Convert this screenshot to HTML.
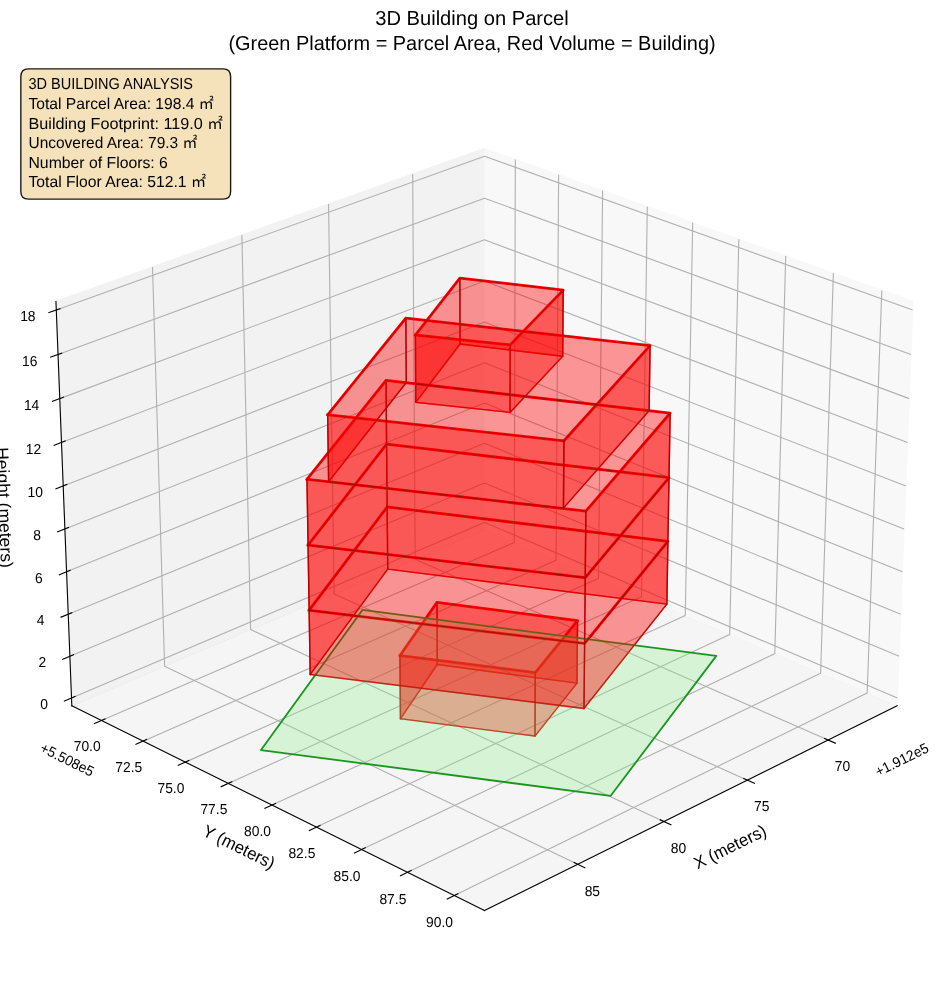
<!DOCTYPE html>
<html lang="en">
<head>
<meta charset="utf-8">
<title>3D Building on Parcel</title>
<style>
html,body{margin:0;padding:0;background:#fff}
body{width:944px;height:992px;overflow:hidden}
svg{display:block}
svg *{stroke-linejoin:round;stroke-linecap:butt}
.t text{font-family:"Liberation Sans","Noto Sans CJK JP",sans-serif;fill:#000;stroke:none;text-rendering:geometricPrecision}
.rl{fill:none;stroke:#f00;stroke-linecap:square;stroke-width:1.39}
.ax{fill:none;stroke:#000;stroke-width:1.11;stroke-linecap:square}
.w{fill:#f00;fill-opacity:.4;stroke:#8b0000;stroke-opacity:.4;stroke-width:1.39}
.gr{fill:none;stroke:#b0b0b0;stroke-width:1.11}
.rt{fill:none;stroke:#f00;stroke-width:2.78;stroke-linecap:square}
</style>
</head>
<body>
<svg width="944" height="992" viewBox="0 0 944 992" role="img" aria-label="3D Building on Parcel">
<g transform="translate(0 0.24)">
<path d="M 0 991.76 L 944 991.76 L 944 0 L 0 0 z" style="fill:#ffffff"/>
<path d="M 10 981.76 L 934 981.76 L 934 57.76 L 10 57.76 z" style="fill:#ffffff"/>
<path d="M 484.49 529.55 L 897.14 705.61 L 913.01 301.3 L 484.49 148.13" style="fill:#f2f2f2;opacity:0.5;stroke:#f2f2f2;stroke-linejoin:miter;stroke-width:1.39"/>
<path d="M 484.49 529.55 L 71.83 705.61 L 55.96 301.3 L 484.49 148.13" style="fill:#e6e6e6;opacity:0.5;stroke:#e6e6e6;stroke-linejoin:miter;stroke-width:1.39"/>
<path d="M 484.49 529.55 L 71.83 705.61 L 484.49 910.18 L 897.14 705.61" style="fill:#ececec;opacity:0.5;stroke:#ececec;stroke-linejoin:miter;stroke-width:1.39"/>
<path d="M 828.16 739.81 L 415.18 559.12 L 412.68 173.79" class="gr"/>
<path d="M 747.28 779.9 L 334.09 593.72 L 328.57 203.86" class="gr"/>
<path d="M 663.83 821.27 L 250.6 629.34 L 241.89 234.84" class="gr"/>
<path d="M 577.67 863.98 L 164.61 666.02 L 152.51 266.79" class="gr"/>
<path d="M 515.32 159.15 L 514.25 542.24 L 101.44 720.29" class="gr"/>
<path d="M 558.62 174.63 L 556.03 560.07 L 143.05 740.91" class="gr"/>
<path d="M 602.61 190.35 L 598.46 578.17 L 185.34 761.88" class="gr"/>
<path d="M 647.3 206.32 L 641.53 596.55 L 228.32 783.19" class="gr"/>
<path d="M 692.7 222.55 L 685.26 615.21 L 272.03 804.85" class="gr"/>
<path d="M 738.83 239.04 L 729.68 634.16 L 316.46 826.88" class="gr"/>
<path d="M 785.71 255.8 L 774.79 653.41 L 361.65 849.28" class="gr"/>
<path d="M 833.37 272.83 L 820.61 672.96 L 407.61 872.06" class="gr"/>
<path d="M 881.81 290.15 L 867.17 692.82 L 454.35 895.24" class="gr"/>
<path d="M 71.52 697.82 L 484.49 522.18 L 897.45 697.82" class="gr"/>
<path d="M 69.89 656.06 L 484.49 482.69 L 899.09 656.06" class="gr"/>
<path d="M 68.23 613.97 L 484.49 442.92 L 900.74 613.97" class="gr"/>
<path d="M 66.57 571.55 L 484.49 402.85 L 902.41 571.55" class="gr"/>
<path d="M 64.89 528.78 L 484.49 362.48 L 904.08 528.78" class="gr"/>
<path d="M 63.2 485.67 L 484.49 321.8 L 905.78 485.67" class="gr"/>
<path d="M 61.49 442.21 L 484.49 280.83 L 907.48 442.21" class="gr"/>
<path d="M 59.77 398.4 L 484.49 239.54 L 909.2 398.4" class="gr"/>
<path d="M 58.04 354.23 L 484.49 197.94 L 910.94 354.23" class="gr"/>
<path d="M 56.29 309.69 L 484.49 156.02 L 912.68 309.69" class="gr"/>
<path d="M 897.14 705.61 L 484.49 910.18" class="ax"/>
<path d="M 824.61 738.25 L 835.28 742.92" class="ax"/>
<path d="M 743.72 778.3 L 754.41 783.11" class="ax"/>
<path d="M 660.26 819.62 L 670.96 824.59" class="ax"/>
<path d="M 574.11 862.27 L 584.82 867.4" class="ax"/>
<path d="M 71.83 705.61 L 484.49 910.18" class="ax"/>
<path d="M 104.99 718.76 L 94.33 723.35" class="ax"/>
<path d="M 146.6 739.36 L 135.93 744.03" class="ax"/>
<path d="M 188.89 760.3 L 178.21 765.05" class="ax"/>
<path d="M 231.88 781.58 L 221.19 786.41" class="ax"/>
<path d="M 275.59 803.22 L 264.89 808.13" class="ax"/>
<path d="M 320.02 825.22 L 309.32 830.21" class="ax"/>
<path d="M 365.21 847.59 L 354.51 852.67" class="ax"/>
<path d="M 411.17 870.35 L 400.46 875.51" class="ax"/>
<path d="M 457.92 893.49 L 447.21 898.74" class="ax"/>
<path d="M 71.83 705.61 L 55.96 301.3" class="ax"/>
<path d="M 75.07 696.31 L 64.41 700.84" class="ax"/>
<path d="M 73.45 654.57 L 62.74 659.05" class="ax"/>
<path d="M 71.81 612.5 L 61.06 616.92" class="ax"/>
<path d="M 70.16 570.1 L 59.37 574.46" class="ax"/>
<path d="M 68.5 527.35 L 57.66 531.65" class="ax"/>
<path d="M 66.82 484.26 L 55.93 488.5" class="ax"/>
<path d="M 65.13 440.82 L 54.19 445" class="ax"/>
<path d="M 63.43 397.03 L 52.44 401.14" class="ax"/>
<path d="M 61.71 352.88 L 50.68 356.92" class="ax"/>
<path d="M 59.98 308.37 L 48.9 312.35" class="ax"/>
<path d="M 400.47 718.45 L 399.96 655.3" class="rl"/>
<path d="M 437.27 664.26 L 436.99 602.14" class="rl"/>
<path d="M 577 682.92 L 577.55 620.45" class="rl"/>
<path d="M 534.96 735.82 L 535.27 672.34" class="rl"/>
<path d="M 400.47 718.45 L 437.27 664.26 L 577 682.92 L 534.96 735.82 L 400.47 718.45" class="rl"/>
<path d="M 399.96 655.3 L 436.99 602.14 L 577.55 620.45 L 535.27 672.34 L 399.96 655.3" class="rt"/>
<path d="M 310.21 674.27 L 309.15 609.97" class="rl"/>
<path d="M 387.72 568.92 L 387.16 506.74" class="rl"/>
<path d="M 666.85 603.9 L 667.93 541.02" class="rl"/>
<path d="M 584 708.22 L 584.61 643.25" class="rl"/>
<path d="M 310.21 674.27 L 387.72 568.92 L 666.85 603.9 L 584 708.22 L 310.21 674.27" class="rl"/>
<path d="M 309.15 609.97 L 387.16 506.74 L 667.93 541.02 L 584.61 643.25 L 309.15 609.97" class="rt"/>
<path d="M 309.15 609.97 L 308.07 544.89" class="rl"/>
<path d="M 387.16 506.74 L 386.58 443.83" class="rl"/>
<path d="M 667.93 541.02 L 669.02 477.38" class="rl"/>
<path d="M 584.61 643.25 L 585.24 577.48" class="rl"/>
<path d="M 309.15 609.97 L 387.16 506.74 L 667.93 541.02 L 584.61 643.25 L 309.15 609.97" class="rl"/>
<path d="M 308.07 544.89 L 386.58 443.83 L 669.02 477.38 L 585.24 577.48 L 308.07 544.89" class="rt"/>
<path d="M 308.07 544.89 L 306.98 479.01" class="rl"/>
<path d="M 386.58 443.83 L 386.01 380.18" class="rl"/>
<path d="M 669.02 477.38 L 670.13 412.98" class="rl"/>
<path d="M 585.24 577.48 L 585.87 510.89" class="rl"/>
<path d="M 308.07 544.89 L 386.58 443.83 L 669.02 477.38 L 585.24 577.48 L 308.07 544.89" class="rl"/>
<path d="M 306.98 479.01 L 386.01 380.18 L 670.13 412.98 L 585.87 510.89 L 306.98 479.01" class="rt"/>
<path d="M 328.63 481.41 L 327.66 414.65" class="rl"/>
<path d="M 406.29 382.31 L 405.82 317.85" class="rl"/>
<path d="M 649.09 410.44 L 650.08 345.33" class="rl"/>
<path d="M 563.44 507.89 L 563.93 440.52" class="rl"/>
<path d="M 328.63 481.41 L 406.29 382.31 L 649.09 410.44 L 563.44 507.89 L 328.63 481.41" class="rl"/>
<path d="M 327.66 414.65 L 405.82 317.85 L 650.08 345.33 L 563.93 440.52 L 327.66 414.65" class="rt"/>
<path d="M 415.81 402.1 L 415.38 334.81" class="rl"/>
<path d="M 460.02 343.76 L 459.87 277.89" class="rl"/>
<path d="M 562.72 356.04 L 563.2 289.87" class="rl"/>
<path d="M 510 412.16 L 510.16 344.63" class="rl"/>
<path d="M 415.81 402.1 L 460.02 343.76 L 562.72 356.04 L 510 412.16 L 415.81 402.1" class="rl"/>
<path d="M 415.38 334.81 L 459.87 277.89 L 563.2 289.87 L 510.16 344.63 L 415.38 334.81" class="rt"/>
<path d="M 437.27 664.26 L 577 682.92 L 577.55 620.45 L 436.99 602.14 z" class="w"/>
<path d="M 400.47 718.45 L 437.27 664.26 L 436.99 602.14 L 399.96 655.3 z" class="w"/>
<path d="M 577 682.92 L 534.96 735.82 L 535.27 672.34 L 577.55 620.45 z" class="w"/>
<path d="M 534.96 735.82 L 400.47 718.45 L 399.96 655.3 L 535.27 672.34 z" class="w"/>
<path d="M 28.48 198.88 L 222.98 198.88 Q 230.62 198.88 230.62 191.24 L 230.62 76.24 Q 230.62 68.60 222.98 68.60 L 28.48 68.60 Q 20.84 68.60 20.84 76.24 L 20.84 191.24 Q 20.84 198.88 28.48 198.88 z" style="fill:#f5deb3;opacity:0.9;stroke:#000000;stroke-linejoin:miter;stroke-width:1.39"/>
<path d="M 261 749.82 L 362.47 609.66 L 716.34 655.64 L 610.53 795.7 z" style="fill:#90ee90;fill-opacity:0.3;stroke:#1a961f;stroke-width:1.8"/>
<path d="M 387.72 568.92 L 666.85 603.9 L 667.93 541.02 L 387.16 506.74 z" class="w"/>
<path d="M 310.21 674.27 L 387.72 568.92 L 387.16 506.74 L 309.15 609.97 z" class="w"/>
<path d="M 666.85 603.9 L 584 708.22 L 584.61 643.25 L 667.93 541.02 z" class="w"/>
<path d="M 584 708.22 L 310.21 674.27 L 309.15 609.97 L 584.61 643.25 z" class="w"/>
<path d="M 387.16 506.74 L 667.93 541.02 L 669.02 477.38 L 386.58 443.83 z" class="w"/>
<path d="M 309.15 609.97 L 387.16 506.74 L 386.58 443.83 L 308.07 544.89 z" class="w"/>
<path d="M 667.93 541.02 L 584.61 643.25 L 585.24 577.48 L 669.02 477.38 z" class="w"/>
<path d="M 584.61 643.25 L 309.15 609.97 L 308.07 544.89 L 585.24 577.48 z" class="w"/>
<path d="M 460.02 343.76 L 562.72 356.04 L 563.2 289.87 L 459.87 277.89 z" class="w"/>
<path d="M 415.81 402.1 L 460.02 343.76 L 459.87 277.89 L 415.38 334.81 z" class="w"/>
<path d="M 562.72 356.04 L 510 412.16 L 510.16 344.63 L 563.2 289.87 z" class="w"/>
<path d="M 510 412.16 L 415.81 402.1 L 415.38 334.81 L 510.16 344.63 z" class="w"/>
<path d="M 386.58 443.83 L 669.02 477.38 L 670.13 412.98 L 386.01 380.18 z" class="w"/>
<path d="M 308.07 544.89 L 386.58 443.83 L 386.01 380.18 L 306.98 479.01 z" class="w"/>
<path d="M 669.02 477.38 L 585.24 577.48 L 585.87 510.89 L 670.13 412.98 z" class="w"/>
<path d="M 585.24 577.48 L 308.07 544.89 L 306.98 479.01 L 585.87 510.89 z" class="w"/>
<path d="M 406.29 382.31 L 649.09 410.44 L 650.08 345.33 L 405.82 317.85 z" class="w"/>
<path d="M 328.63 481.41 L 406.29 382.31 L 405.82 317.85 L 327.66 414.65 z" class="w"/>
<path d="M 649.09 410.44 L 563.44 507.89 L 563.93 440.52 L 650.08 345.33 z" class="w"/>
<path d="M 563.44 507.89 L 328.63 481.41 L 327.66 414.65 L 563.93 440.52 z" class="w"/>
</g>
<g class="t">
<text x="842.50" y="770.63" text-anchor="middle" font-size="14.44" textLength="15.41" lengthAdjust="spacingAndGlyphs">70</text>
<text x="761.74" y="811.09" text-anchor="middle" font-size="14.44" textLength="15.41" lengthAdjust="spacingAndGlyphs">75</text>
<text x="678.40" y="852.83" text-anchor="middle" font-size="14.44" textLength="15.41" lengthAdjust="spacingAndGlyphs">80</text>
<text x="592.37" y="895.92" text-anchor="middle" font-size="14.44" textLength="15.41" lengthAdjust="spacingAndGlyphs">85</text>
<text x="929.88" y="751.24" transform="rotate(-26.369 929.88 751.24)" text-anchor="end" font-size="14.44" textLength="57.75" lengthAdjust="spacingAndGlyphs">+1.912e5</text>
<text x="732.57" y="852.16" transform="rotate(-26.369 732.57 852.16)" text-anchor="middle" font-size="17.33" textLength="78.45" lengthAdjust="spacingAndGlyphs">X (meters)</text>
<text x="87.16" y="750.94" text-anchor="middle" font-size="14.44" textLength="26.97" lengthAdjust="spacingAndGlyphs">70.0</text>
<text x="128.71" y="771.75" text-anchor="middle" font-size="14.44" textLength="26.97" lengthAdjust="spacingAndGlyphs">72.5</text>
<text x="170.93" y="792.90" text-anchor="middle" font-size="14.44" textLength="26.97" lengthAdjust="spacingAndGlyphs">75.0</text>
<text x="213.86" y="814.40" text-anchor="middle" font-size="14.44" textLength="26.97" lengthAdjust="spacingAndGlyphs">77.5</text>
<text x="257.50" y="836.26" text-anchor="middle" font-size="14.44" textLength="26.97" lengthAdjust="spacingAndGlyphs">80.0</text>
<text x="301.87" y="858.49" text-anchor="middle" font-size="14.44" textLength="26.97" lengthAdjust="spacingAndGlyphs">82.5</text>
<text x="346.99" y="881.09" text-anchor="middle" font-size="14.44" textLength="26.97" lengthAdjust="spacingAndGlyphs">85.0</text>
<text x="392.89" y="904.08" text-anchor="middle" font-size="14.44" textLength="26.97" lengthAdjust="spacingAndGlyphs">87.5</text>
<text x="439.57" y="927.46" text-anchor="middle" font-size="14.44" textLength="26.97" lengthAdjust="spacingAndGlyphs">90.0</text>
<text x="39.10" y="751.24" transform="rotate(-333.631 39.10 751.24)" font-size="14.44" textLength="57.75" lengthAdjust="spacingAndGlyphs">+5.508e5</text>
<text x="236.41" y="852.16" transform="rotate(-333.631 236.41 852.16)" text-anchor="middle" font-size="17.33" textLength="77.77" lengthAdjust="spacingAndGlyphs">Y (meters)</text>
<text x="44.11" y="709.11" text-anchor="middle" font-size="14.44" textLength="7.70" lengthAdjust="spacingAndGlyphs">0</text>
<text x="42.36" y="667.36" text-anchor="middle" font-size="14.44" textLength="7.70" lengthAdjust="spacingAndGlyphs">2</text>
<text x="40.60" y="625.27" text-anchor="middle" font-size="14.44" textLength="7.70" lengthAdjust="spacingAndGlyphs">4</text>
<text x="38.83" y="582.84" text-anchor="middle" font-size="14.44" textLength="7.70" lengthAdjust="spacingAndGlyphs">6</text>
<text x="37.04" y="540.08" text-anchor="middle" font-size="14.44" textLength="7.70" lengthAdjust="spacingAndGlyphs">8</text>
<text x="35.23" y="496.97" text-anchor="middle" font-size="14.44" textLength="15.41" lengthAdjust="spacingAndGlyphs">10</text>
<text x="33.41" y="453.51" text-anchor="middle" font-size="14.44" textLength="15.41" lengthAdjust="spacingAndGlyphs">12</text>
<text x="31.58" y="409.69" text-anchor="middle" font-size="14.44" textLength="15.41" lengthAdjust="spacingAndGlyphs">14</text>
<text x="29.73" y="365.52" text-anchor="middle" font-size="14.44" textLength="15.41" lengthAdjust="spacingAndGlyphs">16</text>
<text x="27.87" y="320.99" text-anchor="middle" font-size="14.44" textLength="15.41" lengthAdjust="spacingAndGlyphs">18</text>
<text x="-1.35" y="507.70" transform="rotate(-272.248 -1.35 507.70)" text-anchor="middle" font-size="17.33" textLength="120.62" lengthAdjust="spacingAndGlyphs">Height (meters)</text>
<text x="28.48" y="89.48" font-size="15.89" textLength="164.60" lengthAdjust="spacingAndGlyphs">3D BUILDING ANALYSIS</text>
<text x="28.48" y="109.08" font-size="15.89" textLength="185.40" lengthAdjust="spacingAndGlyphs">Total Parcel Area: 198.4 <tspan font-size="15.28">㎡</tspan></text>
<text x="28.48" y="128.68" font-size="15.89" textLength="194.50" lengthAdjust="spacingAndGlyphs">Building Footprint: 119.0 <tspan font-size="15.28">㎡</tspan></text>
<text x="28.48" y="148.28" font-size="15.89" textLength="168.90" lengthAdjust="spacingAndGlyphs">Uncovered Area: 79.3 <tspan font-size="15.28">㎡</tspan></text>
<text x="28.48" y="167.88" font-size="15.89" textLength="139.40" lengthAdjust="spacingAndGlyphs">Number of Floors: 6</text>
<text x="28.48" y="187.48" font-size="15.89" textLength="177.60" lengthAdjust="spacingAndGlyphs">Total Floor Area: 512.1 <tspan font-size="15.28">㎡</tspan></text>
<text x="472.00" y="25.28" text-anchor="middle" font-size="20.22" textLength="193.50" lengthAdjust="spacingAndGlyphs">3D Building on Parcel</text>
<text x="472.00" y="49.67" text-anchor="middle" font-size="20.22" textLength="487.25" lengthAdjust="spacingAndGlyphs">(Green Platform = Parcel Area, Red Volume = Building)</text>
</g>
</svg>
</body>
</html>
